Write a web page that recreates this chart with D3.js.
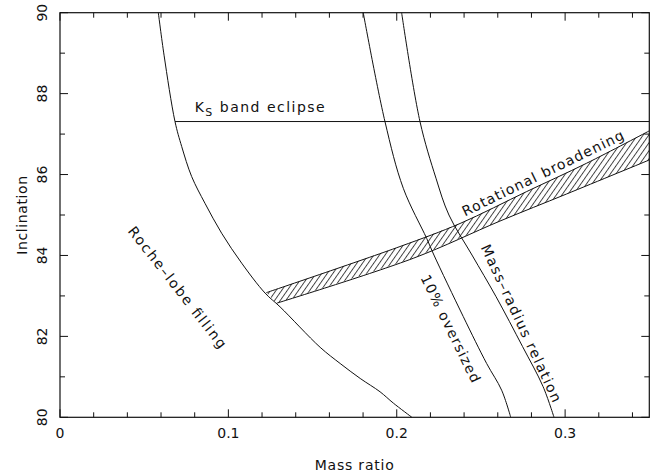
<!DOCTYPE html>
<html>
<head>
<meta charset="utf-8">
<script src="https://cdn.jsdelivr.net/npm/d3@7"></script>
<style>
  body { margin: 0; background: #fff; }
  text { font-family: "DejaVu Sans", sans-serif; fill: #111; }
</style>
</head>
<body>
<svg id="chart" width="668" height="475"></svg>
<script>
// mass ratio q vs inclination i
const rocheLobe = [
  [0.0584, 90.0], [0.0618, 88.95], [0.0683, 87.31], [0.0723, 86.69],
  [0.0782, 85.95], [0.0861, 85.29], [0.0960, 84.55], [0.1079, 83.81],
  [0.1218, 83.07], [0.1307, 82.73], [0.1545, 81.73], [0.1664, 81.33],
  [0.1783, 80.96], [0.1901, 80.63], [0.1980, 80.35], [0.2090, 80.0]
];
const oversized = [
  [0.1801, 90.0], [0.1930, 87.31], [0.2039, 85.66], [0.2178, 84.42],
  [0.2221, 84.01], [0.2395, 82.49], [0.2534, 81.33], [0.2623, 80.67],
  [0.2677, 80.0]
];
const massRadius = [
  [0.2029, 90.0], [0.2138, 87.31], [0.2233, 85.91], [0.2310, 85.0],
  [0.2447, 84.01], [0.2590, 82.98], [0.2747, 81.75], [0.2869, 80.76],
  [0.2934, 80.0]
];
const broadeningUpper = [
  [0.1225, 83.08], [0.2019, 84.22], [0.2376, 84.79], [0.2772, 85.58],
  [0.3128, 86.28], [0.35, 87.08]
];
const broadeningLower = [
  [0.1287, 82.82], [0.2098, 83.93], [0.2613, 84.85], [0.3009, 85.52],
  [0.35, 86.36]
];
const eclipseLine = [[0.0683, 87.31], [0.35, 87.31]];

const xMajorTicks = [0, 0.1, 0.2, 0.3];
const xTickLabels = ["0", "0.1", "0.2", "0.3"];
const xMinorTicks = [0.02, 0.04, 0.06, 0.08, 0.12, 0.14, 0.16, 0.18, 0.22, 0.24, 0.26, 0.28, 0.32, 0.34];
const yMajorTicks = [80, 82, 84, 86, 88, 90];
const yMinorTicks = [81, 83, 85, 87, 89];

const margin = { top: 12.7, left: 60 };
const innerWidth = 589.3;
const innerHeight = 404.6;

const svg = d3.select("#chart");
const innerChart = svg.append("g")
  .attr("transform", `translate(${margin.left}, ${margin.top})`);

const xScale = d3.scaleLinear().domain([0, 0.35]).range([0, innerWidth]);
const yScale = d3.scaleLinear().domain([80, 90]).range([innerHeight, 0]);

// hatch pattern for the rotational broadening band
svg.append("defs")
  .append("pattern")
    .attr("id", "hatch")
    .attr("patternUnits", "userSpaceOnUse")
    .attr("width", 4.6)
    .attr("height", 10)
    .attr("patternTransform", "rotate(35)")
  .append("line")
    .attr("x1", 0.5).attr("y1", 0)
    .attr("x2", 0.5).attr("y2", 10)
    .attr("stroke", "#111")
    .attr("stroke-width", 0.8);

const lineGen = d3.line()
  .x(d => xScale(d[0]))
  .y(d => yScale(d[1]))
  .curve(d3.curveCatmullRom.alpha(0.5));

// band polygon: upper edge left->right, lower edge right->left
const band = broadeningUpper.concat(broadeningLower.slice().reverse());
innerChart.append("path")
  .attr("d", d3.line().x(d => xScale(d[0])).y(d => yScale(d[1])).curve(d3.curveLinearClosed)(band))
  .attr("fill", "url(#hatch)")
  .attr("stroke", "none");

[broadeningUpper, broadeningLower].forEach(edge => {
  innerChart.append("path")
    .attr("d", lineGen(edge))
    .attr("fill", "none")
    .attr("stroke", "#111")
    .attr("stroke-width", 1);
});

[rocheLobe, oversized, massRadius, eclipseLine].forEach(series => {
  innerChart.append("path")
    .attr("d", lineGen(series))
    .attr("fill", "none")
    .attr("stroke", "#111")
    .attr("stroke-width", 1);
});

// frame
innerChart.append("rect")
  .attr("x", 0).attr("y", 0)
  .attr("width", innerWidth).attr("height", innerHeight)
  .attr("fill", "none")
  .attr("stroke", "#111")
  .attr("stroke-width", 1.2);

// ticks on all four sides, pointing inward
const tickGroup = innerChart.append("g").attr("stroke", "#111").attr("stroke-width", 1);
const addXTicks = (values, len) => {
  values.forEach(v => {
    tickGroup.append("line")
      .attr("x1", xScale(v)).attr("x2", xScale(v))
      .attr("y1", innerHeight).attr("y2", innerHeight - len);
    tickGroup.append("line")
      .attr("x1", xScale(v)).attr("x2", xScale(v))
      .attr("y1", 0).attr("y2", len);
  });
};
const addYTicks = (values, len) => {
  values.forEach(v => {
    tickGroup.append("line")
      .attr("x1", 0).attr("x2", len)
      .attr("y1", yScale(v)).attr("y2", yScale(v));
    tickGroup.append("line")
      .attr("x1", innerWidth).attr("x2", innerWidth - len)
      .attr("y1", yScale(v)).attr("y2", yScale(v));
  });
};
addXTicks(xMajorTicks, 8);
addXTicks(xMinorTicks, 5);
addYTicks(yMajorTicks, 8);
addYTicks(yMinorTicks, 5);

// tick labels
xMajorTicks.forEach((v, idx) => {
  innerChart.append("text")
    .attr("x", xScale(v))
    .attr("y", innerHeight + 21)
    .attr("text-anchor", "middle")
    .style("font-size", "14px")
    .text(xTickLabels[idx]);
});
yMajorTicks.forEach(v => {
  innerChart.append("text")
    .attr("transform", `translate(-13, ${yScale(v)}) rotate(-90)`)
    .attr("text-anchor", "middle")
    .style("font-size", "14px")
    .text(v);
});

// axis titles
innerChart.append("text")
  .attr("x", innerWidth / 2)
  .attr("y", innerHeight + 53)
  .attr("text-anchor", "middle")
  .style("font-size", "14px")
  .style("letter-spacing", "0.8px")
  .text("Mass ratio");
innerChart.append("text")
  .attr("transform", `translate(-33, ${innerHeight / 2}) rotate(-90)`)
  .attr("text-anchor", "middle")
  .style("font-size", "14px")
  .style("letter-spacing", "0.6px")
  .text("Inclination");

// curve labels
const eclipseLabel = innerChart.append("text")
  .attr("x", xScale(0.08))
  .attr("y", yScale(87.31) - 10)
  .attr("textLength", 130)
  .attr("lengthAdjust", "spacing")
  .style("font-size", "14px");
eclipseLabel.append("tspan").text("K");
eclipseLabel.append("tspan").attr("dy", 4).style("font-size", "11px").text("S");
eclipseLabel.append("tspan").attr("dy", -4).text(" band eclipse");

const addRotatedLabel = (label, q, incl, angle, len) => {
  innerChart.append("text")
    .attr("transform", `translate(${xScale(q)}, ${yScale(incl)}) rotate(${angle})`)
    .attr("textLength", len)
    .attr("lengthAdjust", "spacing")
    .style("font-size", "14px")
    .text(label);
};
addRotatedLabel("Rotational broadening", 0.2405, 84.96, -26, 178);
addRotatedLabel("Roche\u2013lobe filling", 0.040, 84.6, 52, 150);
addRotatedLabel("10% oversized", 0.2140, 83.45, 64, 118);
addRotatedLabel("Mass\u2013radius relation", 0.2497, 84.2, 65, 172);
</script>
</body>
</html>
